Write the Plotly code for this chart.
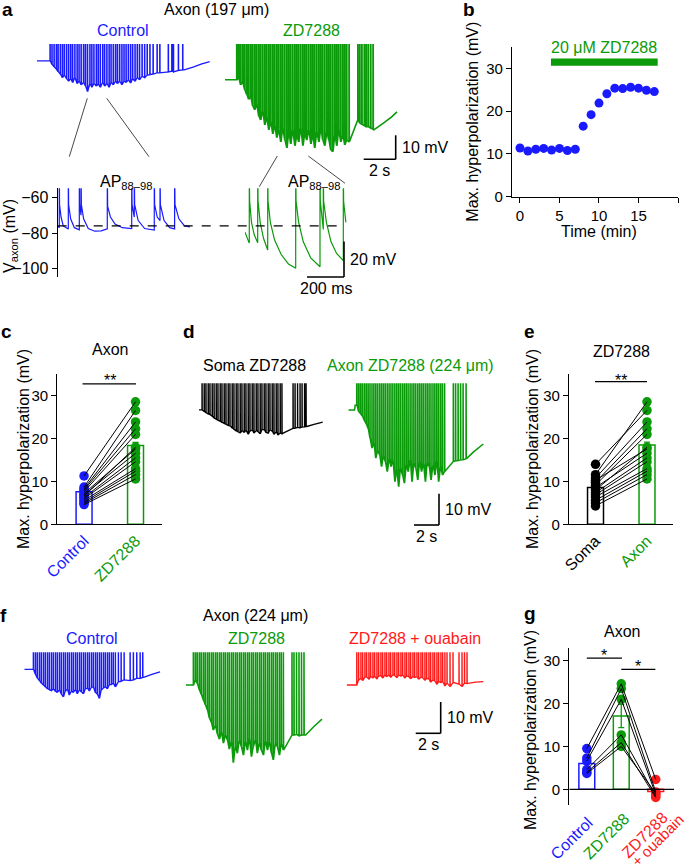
import plotly.graph_objects as go

W, H = 685, 866
FONT = "Liberation Sans, Arial, Helvetica, sans-serif"
BLUE = "#1a1aff"
GREEN = "#0a9a0a"
RED = "#ff1a1a"
BLACK = "#000000"

AP_PEAK = 20.0  # action potentials overshoot; the axes clip them as in the figure

# ---------------- panel a : axon (197 um), long traces ----------------
a_ctrl_base = -70.0
a_ctrl_spk_t = [0.81, 0.93, 1.06, 1.2, 1.31, 1.45, 1.58, 1.7, 1.84, 1.97, 2.1, 2.22, 2.36, 2.5, 2.62,
                2.75, 2.9, 3.02, 3.15, 3.3, 3.42, 3.55, 3.7, 3.82, 3.95, 4.1, 4.22, 4.36, 4.5, 4.62,
                4.76, 4.9, 5.02, 5.16, 5.3, 5.43, 5.56, 5.7, 5.84, 5.97, 6.12, 6.26, 6.4, 6.56, 6.72,
                6.88, 7.05, 7.25, 7.5, 7.67, 8.2, 8.42, 8.52, 8.83, 9.1]
a_ctrl_floor = [-70.0, -71.5, -72.5, -73.5, -74.5, -75.5, -77.0, -76.0, -77.5, -78.5, -77.5, -79.0,
                -77.0, -79.5, -78.5, -80.0, -79.0, -80.5, -82.8, -79.5, -81.0, -79.5, -80.5, -79.8,
                -81.0, -79.0, -80.5, -79.5, -81.0, -79.0, -80.0, -78.5, -79.5, -78.5, -80.0, -78.5,
                -79.0, -78.0, -79.2, -77.5, -78.5, -77.0, -77.9, -76.5, -77.0, -76.0, -75.8, -75.5,
                -75.0, -75.0, -74.6, -74.3, -74.6, -74.0, -73.8]
a_ctrl_end_t = [9.2, 9.8, 10.3, 10.8]
a_ctrl_end_v = [-73.8, -72.5, -71.3, -70.3]

a_zd_base = -77.9
a_zd_spk_t = [0.73, 0.85, 0.97, 1.1, 1.22, 1.35, 1.47, 1.6, 1.72, 1.85, 1.97, 2.1, 2.22, 2.35, 2.48,
              2.6, 2.73, 2.85, 2.98, 3.1, 3.23, 3.35, 3.48, 3.6, 3.73, 3.86, 3.98, 4.1, 4.23, 4.36,
              4.48, 4.6, 4.73, 4.86, 4.98, 5.1, 5.23, 5.36, 5.48, 5.6, 5.73, 5.86, 5.98, 6.1, 6.23,
              6.36, 6.48, 6.6, 6.73, 6.86, 6.98, 7.1, 7.23, 7.36, 7.48, 7.6, 7.75,
              8.3, 8.42, 8.55, 8.7, 8.82, 8.95, 9.1, 9.25]
a_zd_floor = [-77.9, -77.1, -80.0, -78.8, -82.0, -84.0, -86.0, -85.0, -88.8, -90.4, -88.0, -93.0,
              -94.6, -91.0, -96.7, -93.7, -98.8, -95.4, -100.4, -97.0, -102.0, -98.8, -103.8, -98.0,
              -103.0, -106.3, -99.6, -104.6, -98.8, -105.4, -101.0, -103.8, -98.0, -105.4, -100.4,
              -103.0, -98.8, -104.6, -101.0, -106.3, -99.6, -103.8, -98.0, -103.0, -105.4, -99.6,
              -103.0, -107.0, -107.9, -101.0, -105.4, -98.8, -103.8, -101.0, -105.0, -103.0, -103.8,
              -94.6, -96.0, -96.5, -97.0, -97.5, -97.5, -98.0, -98.5]
a_zd_end_t = [9.3, 9.9, 10.4, 10.75]
a_zd_end_v = [-98.8, -96.0, -93.5, -91.3]

# ---------------- panel a : APs 88-98 (ms, mV) ----------------
a_zoom_ctrl_t = [0, 8.6, 8.6, 10, 18, 30, 57.3, 57.3, 59, 70, 90, 116.8, 116.8, 118.5, 126, 126, 128,
                 140, 165, 200, 235, 268, 268, 270, 285, 310, 350, 400, 400, 402, 414, 414, 416, 435,
                 470, 522, 522, 524, 538, 553, 553, 555, 575, 605, 632, 632, 634, 655, 685, 715]
a_zoom_ctrl_v = [-76.1, -77, -40, -64, -71, -76, -77.7, -40, -64, -72, -77, -78.2, -40, -64, -70, -40,
                 -64, -72, -77.5, -79, -78.8, -77.7, -40, -65, -71, -75, -77, -77.5, -40, -64, -71,
                 -40, -64, -73, -77.5, -78.3, -40, -64, -71, -73, -40, -64, -73, -77, -77.7, -40,
                 -64, -72, -76, -76.5]
a_zoom_zd_t = [0, 20, 23.2, 23.2, 25, 35, 50, 68.6, 68.6, 70.5, 82, 100, 122.7, 122.7, 124.5, 137,
               160, 195, 235, 274, 274, 276, 290, 315, 355, 405.4, 405.4, 407, 423.2, 423.2, 425,
               440, 465, 495, 531.4, 531.4, 533, 545]
a_zoom_zd_v = [-79.5, -85, -85.6, -40, -62, -74, -81, -85.5, -40, -62, -74, -83, -89.6, -40, -62,
               -74, -84, -92, -97.5, -99.9, -40, -62, -74, -85, -94, -99, -40, -62, -78, -40, -62,
               -74, -85, -91.5, -95.6, -40, -62, -74]
a_dash_v = -76.0
a_yticks = [-60, -80, -100]

# ---------------- panel b ----------------
b_time = [0, 1, 2, 3, 4, 5, 6, 7, 8, 9, 10, 11, 12, 13, 14, 15, 16, 17]
b_hyper = [11.4, 10.7, 11.1, 11.3, 10.9, 11.3, 10.8, 11.1, 16.5, 19.2, 21.9, 24.1, 25.4, 25.3,
           25.6, 25.4, 24.9, 24.6]
b_drug_t = [3.92, 17.43]
b_drug_y = 31.5

# ---------------- panel c ----------------
c_control = [11.3, 8.7, 8.3, 8.0, 7.6, 7.2, 6.9, 6.6, 6.3, 6.0, 5.6, 5.2, 4.9, 4.6]
c_zd = [28.6, 26.6, 23.9, 22.3, 21.0, 17.6, 16.6, 18.0, 15.5, 14.6, 13.0, 12.4, 11.6, 10.6]
c_mean = [7.6, 18.4]
c_sem = [0.5, 0.7]

# ---------------- panel d (relative mV, s) ----------------
d_soma_spk_t = [0.24, 0.41, 0.55, 0.73, 0.87, 1.05, 1.2, 1.37, 1.51, 1.69, 1.83, 2.01, 2.15, 2.33,
                2.47, 2.65, 2.79, 2.97, 3.11, 3.29, 3.43, 3.61, 3.75, 3.93, 4.07, 4.25, 4.39, 4.57,
                4.71, 4.89, 5.03, 5.21, 5.35, 5.53, 5.67, 5.85, 5.99, 6.17, 6.31, 6.49, 6.63,
                7.52, 7.68, 7.88, 8.08, 8.24, 8.44, 8.56]
d_soma_floor = [0.0, -0.5, -0.9, -1.3, -1.5, -2.0, -2.6, -3.0, -3.3, -3.6, -4.0, -4.3, -4.6, -5.0,
                -5.1, -5.8, -6.2, -6.7, -7.0, -7.4, -6.6, -7.2, -6.5, -7.8, -6.8, -6.4, -7.4, -6.6,
                -7.0, -7.6, -6.2, -6.4, -7.2, -7.4, -6.4, -6.8, -7.8, -7.0, -8.0, -7.4, -7.6,
                -5.9, -5.8, -5.6, -5.7, -5.5, -5.4, -5.3]
d_soma_end_t = [8.62, 9.2, 9.9]
d_soma_end_v = [-5.3, -4.6, -3.9]

d_axon_pre_t = [0, 0.5, 0.55]
d_axon_pre_v = [0.0, 0.0, 1.5]
d_axon_spk_t = [0.67, 0.82, 0.97, 1.12, 1.28, 1.43, 1.58, 1.73, 1.89, 2.04, 2.19, 2.34, 2.5, 2.65,
                2.8, 2.95, 3.11, 3.26, 3.41, 3.56, 3.72, 3.87, 4.02, 4.17, 4.33, 4.48, 4.63, 4.78,
                4.94, 5.09, 5.24, 5.39, 5.55, 5.7, 5.85, 6.0, 6.16, 6.31, 6.46, 6.61, 6.77, 6.92,
                7.07, 7.22, 7.38, 7.53, 7.7, 8.4, 8.58, 8.78, 8.98, 9.18, 9.42]
d_axon_floor = [1.6, -0.5, -1.2, -2.0, -3.4, -4.5, -5.9, -9.0, -12.2, -10.5, -15.4, -13.0, -14.4,
                -18.1, -14.8, -16.5, -19.7, -15.6, -18.1, -16.0, -22.9, -19.0, -24.5, -18.5, -20.8,
                -23.4, -17.5, -19.7, -15.8, -22.9, -17.0, -18.6, -22.4, -16.5, -19.7, -17.0, -22.9,
                -16.8, -18.1, -22.4, -17.5, -20.8, -16.2, -22.9, -18.0, -20.8, -19.7,
                -16.5, -16.3, -16.2, -16.0, -15.9, -15.6]
d_axon_end_t = [9.5, 10.0, 10.8]
d_axon_end_v = [-15.4, -13.5, -10.9]

# ---------------- panel e ----------------
e_soma = [11.6, 14.0, 10.8, 9.8, 9.2, 10.3, 8.6, 8.0, 7.4, 6.9, 6.4, 5.6, 5.0, 4.3]
e_axon = [28.6, 26.6, 23.9, 22.3, 21.0, 17.6, 16.6, 18.0, 15.5, 14.6, 13.0, 12.4, 11.6, 10.6]
e_mean = [8.6, 18.5]
e_sem = [0.7, 0.7]

# ---------------- panel f : axon (224 um) ----------------
f_ctrl_spk_t = [0.72, 0.88, 1.03, 1.2, 1.35, 1.52, 1.67, 1.84, 1.99, 2.16, 2.31, 2.48, 2.63, 2.8,
                2.95, 3.12, 3.27, 3.44, 3.59, 3.76, 3.91, 4.08, 4.23, 4.4, 4.55, 4.72, 4.87, 5.04,
                5.19, 5.36, 5.51, 5.68, 5.83, 6.0, 6.15, 6.32, 6.47, 6.64, 6.79, 6.96, 7.11, 7.28,
                7.52, 7.74, 7.98, 8.46, 8.72, 8.99, 9.26, 9.47]
f_ctrl_floor = [0.0, -1.6, -2.8, -3.6, -4.4, -5.0, -5.6, -6.2, -6.5, -6.8, -6.3, -7.0, -7.4, -6.6,
                -7.9, -8.8, -7.0, -6.4, -8.2, -7.0, -7.4, -6.5, -7.8, -6.6, -7.2, -7.8, -6.3, -6.0,
                -6.9, -5.8, -5.6, -7.4, -7.9, -9.3, -6.6, -6.0, -5.6, -6.2, -5.0, -4.8, -4.5, -5.6,
                -4.0, -3.8, -3.4, -3.6, -3.4, -2.9, -2.9, -2.6]
f_ctrl_end_t = [9.55, 10.2, 10.86]
f_ctrl_end_v = [-2.6, -1.6, -0.8]

f_zd_spk_t = [0.61, 0.77, 0.92, 1.09, 1.24, 1.41, 1.56, 1.73, 1.88, 2.05, 2.2, 2.37, 2.52, 2.69,
              2.84, 3.01, 3.16, 3.33, 3.48, 3.65, 3.8, 3.97, 4.12, 4.29, 4.44, 4.61, 4.76, 4.93,
              5.08, 5.25, 5.4, 5.57, 5.72, 5.89, 6.04, 6.21, 6.36, 6.53, 6.68, 6.85, 7.0, 7.17,
              7.32, 7.49, 7.64, 7.81, 8.5, 8.66, 8.86, 9.06, 9.26, 9.46]
f_zd_floor = [0.0, 1.6, 0.5, -1.6, -3.0, -4.8, -6.3, -8.0, -10.5, -12.0, -14.4, -13.0, -15.6, -17.3,
              -15.0, -18.6, -16.0, -17.6, -20.5, -18.0, -24.8, -19.5, -21.8, -17.5, -19.7, -22.4,
              -18.0, -20.8, -17.0, -22.9, -19.7, -17.5, -21.8, -18.5, -20.8, -22.4, -17.8, -20.8,
              -18.2, -21.8, -23.9, -18.5, -19.7, -22.4, -18.8, -20.8,
              -16.0, -16.0, -15.8, -16.2, -16.0, -16.0]
f_zd_end_t = [9.6, 10.2, 10.9]
f_zd_end_v = [-16.0, -13.5, -10.9]

f_oua_spk_t = [0.8, 0.95, 1.13, 1.27, 1.45, 1.59, 1.77, 1.91, 2.09, 2.23, 2.41, 2.55, 2.73, 2.87,
               3.05, 3.19, 3.37, 3.51, 3.69, 3.83, 4.01, 4.15, 4.33, 4.47, 4.65, 4.79, 4.97, 5.11,
               5.29, 5.43, 5.61, 5.75, 5.93, 6.07, 6.25, 6.39, 6.57, 6.71, 6.89, 7.03, 7.21, 7.35,
               7.53, 7.67, 7.85, 8.02, 8.26, 8.5, 8.98, 9.22, 9.42, 9.62]
f_oua_floor = [0.0, 1.6, 2.1, 1.4, 2.5, 2.6, 1.8, 2.7, 2.2, 2.8, 1.9, 2.9, 3.0, 2.2, 3.2, 2.6, 3.2,
               2.4, 3.3, 3.0, 2.3, 3.2, 2.8, 3.2, 2.2, 2.9, 2.6, 2.0, 2.7, 2.4, 2.6, 1.8, 2.5, 2.3,
               1.5, 2.1, 1.9, 0.9, 1.6, 1.3, 0.2, 1.1, 0.8, 1.1, -0.3,
               0.6, -0.5, 0.8, 0.3, -0.5, 0.6, 0.5]
f_oua_end_t = [9.7, 10.3, 10.93]
f_oua_end_v = [0.5, 0.9, 1.1]

# ---------------- panel g ----------------
g_labels = ["Control", "ZD7288", "ZD7288", "+ ouabain"]
g_ctrl = [9.5, 7.3, 6.6, 4.6, 4.0, 3.7]
g_zd = [24.6, 23.5, 21.0, 12.7, 10.9, 10.0]
g_oua = [2.3, -0.6, -1.2, -1.6, -1.9, -0.9]
g_mean = [6.0, 17.1, -0.5]
g_sem = [0.9, 2.7, 0.6]

# =====================================================================
fig = go.Figure()
axes = {}
shapes = []
anns = []


def ids(n):
    return ("x" if n == 1 else f"x{n}"), ("y" if n == 1 else f"y{n}")


def add_axes(n, xpx, ypx, xr, yr):
    xi, yi = ids(n)
    axes["xaxis" if n == 1 else f"xaxis{n}"] = dict(domain=[xpx[0] / W, xpx[1] / W], range=xr,
                                                   anchor=yi, visible=False, fixedrange=True,
                                                   automargin=False)
    axes["yaxis" if n == 1 else f"yaxis{n}"] = dict(domain=[1 - ypx[1] / H, 1 - ypx[0] / H], range=yr,
                                                   anchor=xi, visible=False, fixedrange=True,
                                                   automargin=False)
    return xi, yi


def trace_axes(n, x0, pxps, tspan, ytop, vtop, pxmv, ybot):
    return add_axes(n, (x0, x0 + tspan * pxps), (ytop, ybot), [0, tspan],
                    [vtop - (ybot - ytop) / pxmv, vtop])


def spike_path(pre_t, pre_v, spk_t, floor_v, end_t, end_v, dt=0.02):
    xs, ys = list(pre_t), list(pre_v)
    for t, f in zip(spk_t, floor_v):
        xs += [t, t, t + dt]
        ys += [f, AP_PEAK, f]
    return xs + list(end_t), ys + list(end_v)


def add_line(xs, ys, ax, color, width=1.2):
    fig.add_trace(go.Scatter(x=xs, y=ys, xaxis=ax[0], yaxis=ax[1], mode="lines",
                             line=dict(color=color, width=width, simplify=False),
                             hoverinfo="skip", showlegend=False))


def seg(x0, y0, x1, y1, color=BLACK, width=1.3, dash=None):
    shapes.append(dict(type="line", xref="paper", yref="paper", x0=x0 / W, y0=1 - y0 / H,
                       x1=x1 / W, y1=1 - y1 / H, line=dict(color=color, width=width, dash=dash)))


def txt(text, x, y, size=16, color=BLACK, angle=0, xanchor="center", yanchor="middle", bold=False):
    anns.append(dict(text=(f"<b>{text}</b>" if bold else text), x=x / W, y=1 - y / H,
                     xref="paper", yref="paper", showarrow=False, textangle=angle,
                     font=dict(family=FONT, size=size, color=color),
                     xanchor=xanchor, yanchor=yanchor))


def scalebar(xc, yc, len_h, len_v, lab_v, lab_h):
    seg(xc, yc - len_v, xc, yc, width=1.6)
    seg(xc - len_h, yc, xc, yc, width=1.6)
    txt(lab_v, xc + 4, yc - len_v / 2, xanchor="left")
    txt(lab_h, xc - len_h / 2, yc + 11)


def style_axis(d, **kw):
    base = dict(visible=True, showline=True, linecolor=BLACK, linewidth=1.2, ticks="outside",
                ticklen=5, tickwidth=1.2, tickcolor=BLACK, showgrid=False, zeroline=False,
                automargin=False, tickfont=dict(family=FONT, size=15, color=BLACK))
    base.update(kw)
    d.update(base)


# ---------------- panel a ----------------
PXS_A, PXMV_A = 16.0, 2.4
ax_a1 = trace_axes(1, 37, PXS_A, 10.8, 44, -63.0, PXMV_A, 165)
ax_a2 = trace_axes(2, 225, PXS_A, 10.9, 44, -63.0, PXMV_A, 165)
x, y = spike_path([0], [a_ctrl_base], a_ctrl_spk_t, a_ctrl_floor, a_ctrl_end_t, a_ctrl_end_v)
add_line(x, y, ax_a1, BLUE, 1.3)
x, y = spike_path([0], [a_zd_base], a_zd_spk_t, a_zd_floor, a_zd_end_t, a_zd_end_v)
add_line(x, y, ax_a2, GREEN, 1.6)
scalebar(395.7, 159.3, 2 * PXS_A, 10 * PXMV_A, "10 mV", "2 s")

# zoomed APs
PXMS_Z, PXMV_Z = 0.185, 1.775
y60 = 197.5
ztop, zbot = 188.3, 276.7
zr = [-60 - (zbot - y60) / PXMV_Z, -60 + (y60 - ztop) / PXMV_Z]
ax_z1 = add_axes(3, (57.7, 345), (ztop, zbot), [0, (345 - 57.7) / PXMS_Z], zr)
axes["xaxis4"] = dict(domain=[245 / W, 350 / W], range=[0, 105 / PXMS_Z], anchor="y3",
                      visible=False, fixedrange=True, automargin=False)
style_axis(axes["yaxis3"], tickvals=a_yticks, ticktext=["\u221260", "\u221280", "\u2212100"],
           tickfont=dict(family=FONT, size=16, color=BLACK))
add_line(a_zoom_ctrl_t, a_zoom_ctrl_v, ax_z1, BLUE, 1.2)
add_line(a_zoom_zd_t, a_zoom_zd_v, ("x4", "y3"), GREEN, 1.2)
shapes.append(dict(type="line", xref="x3", yref="y3", x0=0, x1=(345 - 57.7) / PXMS_Z,
                   y0=a_dash_v, y1=a_dash_v, line=dict(color=BLACK, width=1.4, dash="dash")))
scalebar(344, 277, 200 * PXMS_Z, 20 * PXMV_Z, "20 mV", "200 ms")

for (x0, y0, x1, y1) in [(87.3, 98.3, 69.3, 156.7), (106.7, 98.3, 149, 156.7),
                         (277.3, 156, 259.3, 186.7), (308.3, 156, 345, 183.3)]:
    seg(x0, y0, x1, y1, color="#333333", width=0.9)

txt("a", 7, 9, size=19, bold=True)
txt("Axon (197 \u03bcm)", 216.7, 10)
txt("Control", 123.3, 30.5, color=BLUE)
txt("ZD7288", 311.7, 30.5, color=GREEN)
txt("AP<sub>88\u201398</sub>", 126, 182)
txt("AP<sub>88\u201398</sub>", 314, 182)
txt("V<sub>axon</sub> (mV)", 11, 236, angle=-90)

# ---------------- panel b ----------------
ax_b = add_axes(5, (512, 678), (46.7, 196.7), [-1.01, 20], [0, 35.1])
style_axis(axes["xaxis5"], tickvals=[0, 5, 10, 15, 20])
style_axis(axes["yaxis5"], tickvals=[0, 10, 20, 30])
fig.add_trace(go.Scatter(x=b_time, y=b_hyper, xaxis=ax_b[0], yaxis=ax_b[1], mode="markers",
                         marker=dict(color=BLUE, size=9), showlegend=False, hoverinfo="skip"))
shapes.append(dict(type="rect", xref="x5", yref="y5", x0=b_drug_t[0], x1=b_drug_t[1],
                   y0=b_drug_y - 0.85, y1=b_drug_y + 0.85, fillcolor=GREEN, line=dict(width=0)))
txt("b", 469, 9, size=19, bold=True)
txt("20 \u03bcM ZD7288", 604, 48, color=GREEN)
txt("Max. hyperpolarization (mV)", 473, 121.7, angle=-90)
txt("Time (min)", 599, 231)


# ---------------- bar + paired panels ----------------
def paired_panel(n, xpx, ypx, xr, yr, groups, means, sems, colors, labels, bw, ytick):
    ax = add_axes(n, xpx, ypx, xr, yr)
    style_axis(axes[f"yaxis{n}"], tickvals=ytick)
    style_axis(axes[f"xaxis{n}"], ticks="", tickvals=list(range(len(colors))),
               ticktext=[f'<span style="color:{c}">{l}</span>' for l, c in zip(labels, colors)],
               tickangle=-45, tickfont=dict(family=FONT, size=16, color=BLACK),
               showticklabels=bool(labels))
    for i, (m, s, c) in enumerate(zip(means, sems, colors)):
        fig.add_trace(go.Bar(x=[i], y=[m], width=bw, xaxis=ax[0], yaxis=ax[1],
                             marker=dict(color="white", line=dict(color=c, width=1.5)),
                             error_y=dict(type="data", array=[s], color=c, thickness=1.3, width=3),
                             showlegend=False, hoverinfo="skip"))
    for i, (vals, c) in enumerate(zip(groups, colors)):
        fig.add_trace(go.Scatter(x=[i] * len(vals), y=vals, xaxis=ax[0], yaxis=ax[1],
                                 mode="markers", marker=dict(color=c, size=9.5),
                                 showlegend=False, hoverinfo="skip"))
    lx, ly = [], []
    for k in range(len(groups[0])):
        lx += list(range(len(groups))) + [None]
        ly += [g[k] for g in groups] + [None]
    fig.add_trace(go.Scatter(x=lx, y=ly, xaxis=ax[0], yaxis=ax[1], mode="lines",
                             line=dict(color=BLACK, width=1), showlegend=False, hoverinfo="skip"))
    return ax


def sig(n, x0, x1, yv, xpx_star, ypx_star, label):
    xi, yi = ids(n)
    shapes.append(dict(type="line", xref=xi, yref=yi, x0=x0, x1=x1, y0=yv, y1=yv,
                       line=dict(color=BLACK, width=1.3)))
    txt(label, xpx_star, ypx_star)


# c
paired_panel(6, (57.3, 162.3), (374, 524.3), [-0.52, 1.52], [0, 35.1], [c_control, c_zd],
             c_mean, c_sem, [BLUE, GREEN], ["Control", "ZD7288"], 0.31, [0, 10, 20, 30])
sig(6, -0.03, 1.01, 32.8, 110, 381, "**")
txt("c", 6, 331, size=19, bold=True)
txt("Axon", 110, 350)
txt("Max. hyperpolarization (mV)", 24, 449, angle=-90)

# e
paired_panel(9, (569, 673), (374, 524.3), [-0.515, 1.505], [0, 35.1], [e_soma, e_axon],
             e_mean, e_sem, [BLACK, GREEN], ["Soma", "Axon"], 0.31, [0, 10, 20, 30])
sig(9, -0.01, 1.0, 33.3, 621, 380, "**")
txt("e", 529, 331, size=19, bold=True)
txt("ZD7288", 621.7, 351.7)
txt("Max. hyperpolarization (mV)", 533, 449, angle=-90)

# g
paired_panel(13, (569.3, 674), (648.3, 805), [-0.508, 2.53], [-3.66, 32.9], [g_ctrl, g_zd, g_oua],
             g_mean, g_sem, [BLUE, GREEN, RED], [], 0.46, [0, 10, 20, 30])
axes["xaxis13"]["showline"] = False
shapes.append(dict(type="line", xref="x13", yref="y13", x0=-0.508, x1=2.53, y0=0, y1=0,
                   line=dict(color=BLACK, width=1.2), layer="above"))
sig(13, 0.0, 1.02, 30.6, 603.7, 655, "*")
sig(13, 1.0, 1.99, 28.0, 638.3, 666, "*")
for lab, col, (cx, cy), fs in zip(g_labels, [BLUE, GREEN, RED, RED],
                                  [(571.5, 838.5), (606, 836.5), (644, 835), (657, 840)],
                                  [16, 16, 16, 15]):
    txt(lab, cx, cy, size=fs, color=col, angle=-45)
txt("g", 530, 613, size=19, bold=True)
txt("Axon", 621.7, 631.7)
txt("Max. hyperpolarization (mV)", 530, 730, angle=-90)

# ---------------- panel d ----------------
PXS_D, PXMV_D = 12.5, 3.13
ax_d1 = trace_axes(7, 199, PXS_D, 10.0, 383.3, 8.5, PXMV_D, 445)
ax_d2 = trace_axes(8, 348.3, PXS_D, 11.0, 383.3, 8.5, PXMV_D, 495)
x, y = spike_path([0], [0.0], d_soma_spk_t, d_soma_floor, d_soma_end_t, d_soma_end_v)
add_line(x, y, ax_d1, BLACK, 1.3)
x, y = spike_path(d_axon_pre_t, d_axon_pre_v, d_axon_spk_t, d_axon_floor, d_axon_end_t, d_axon_end_v)
add_line(x, y, ax_d2, GREEN, 1.5)
scalebar(439, 525, 2 * PXS_D, 10 * PXMV_D, "10 mV", "2 s")
txt("d", 189, 331, size=19, bold=True)
txt("Soma ZD7288", 254.7, 365)
txt("Axon ZD7288 (224 \u03bcm)", 410, 365, color=GREEN)

# ---------------- panel f ----------------
ax_f1 = trace_axes(10, 24.3, PXS_D, 11.0, 652.3, 17 / PXMV_D, PXMV_D, 710)
ax_f2 = trace_axes(11, 185.7, PXS_D, 11.0, 652.3, 32.7 / PXMV_D, PXMV_D, 770)
ax_f3 = trace_axes(12, 346.7, PXS_D, 11.0, 652.3, 32.7 / PXMV_D, PXMV_D, 700)
x, y = spike_path([0], [0.0], f_ctrl_spk_t, f_ctrl_floor, f_ctrl_end_t, f_ctrl_end_v)
add_line(x, y, ax_f1, BLUE, 1.3)
x, y = spike_path([0], [0.0], f_zd_spk_t, f_zd_floor, f_zd_end_t, f_zd_end_v)
add_line(x, y, ax_f2, GREEN, 1.5)
x, y = spike_path([0], [0.0], f_oua_spk_t, f_oua_floor, f_oua_end_t, f_oua_end_v)
add_line(x, y, ax_f3, RED, 1.3)
scalebar(440.7, 733.3, 2 * PXS_D, 10 * PXMV_D, "10 mV", "2 s")
txt("f", 4, 615, size=19, bold=True)
txt("Axon (224 \u03bcm)", 256, 615)
txt("Control", 91.7, 638, color=BLUE)
txt("ZD7288", 256.7, 638, color=GREEN)
txt("ZD7288 + ouabain", 415, 638, color=RED)

fig.update_layout(**axes)
fig.update_layout(width=W, height=H, margin=dict(l=0, r=0, t=0, b=0, autoexpand=False),
                  autosize=False, paper_bgcolor="white", plot_bgcolor="rgba(0,0,0,0)",
                  barmode="overlay", showlegend=False, shapes=shapes, annotations=anns,
                  font=dict(family=FONT, size=16, color=BLACK))
fig.write_html("out.html", config={"responsive": False, "displayModeBar": False},
               post_script="document.body.style.margin='0px';document.body.style.overflow='hidden';")
